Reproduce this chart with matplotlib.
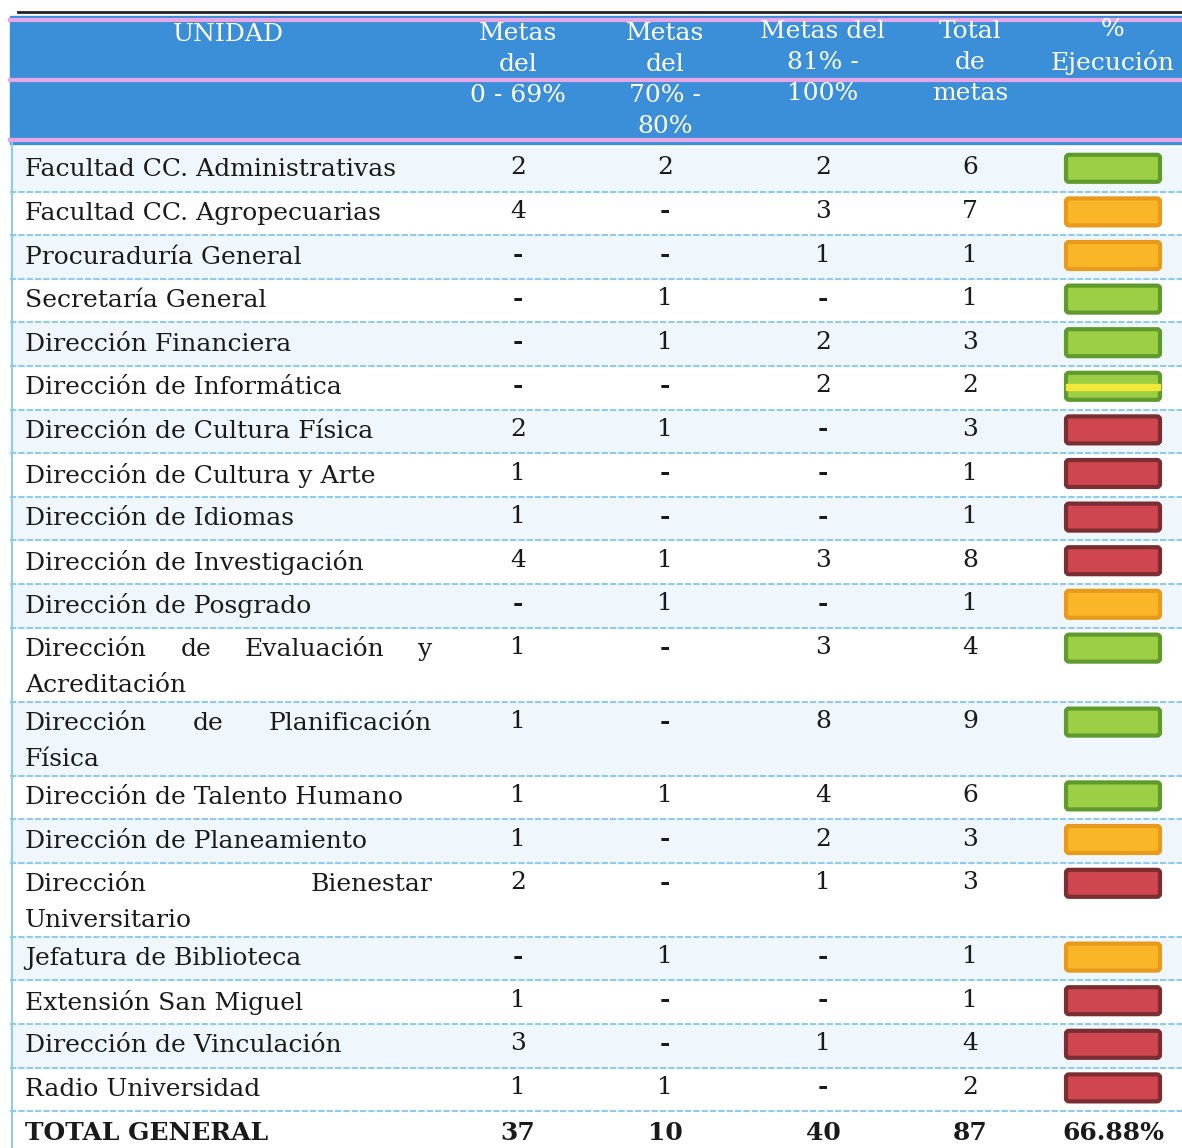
import numpy as np
import matplotlib.pyplot as plt
from matplotlib.patches import Rectangle, FancyBboxPatch

# Table data
unidades = ["Facultad CC. Administrativas", "Facultad CC. Agropecuarias", "Procuraduría General",
            "Secretaría General", "Dirección Financiera", "Dirección de Informática",
            "Dirección de Cultura Física", "Dirección de Cultura y Arte", "Dirección de Idiomas",
            "Dirección de Investigación", "Dirección de Posgrado",
            "Dirección de Evaluación y\nAcreditación", "Dirección de Planificación\nFísica",
            "Dirección de Talento Humano", "Dirección de Planeamiento",
            "Dirección Bienestar\nUniversitario", "Jefatura de Biblioteca",
            "Extensión San Miguel", "Dirección de Vinculación", "Radio Universidad"]
metas_0_69 = ["2", "4", "-", "-", "-", "-", "2", "1", "1", "4", "-", "1", "1", "1", "1", "2", "-", "1", "3", "1"]
metas_70_80 = ["2", "-", "-", "1", "1", "-", "1", "-", "-", "1", "1", "-", "-", "1", "-", "-", "1", "-", "-", "1"]
metas_81_100 = ["2", "3", "1", "-", "2", "2", "-", "-", "-", "3", "-", "3", "8", "4", "2", "1", "-", "-", "1", "-"]
total_metas = ["6", "7", "1", "1", "3", "2", "3", "1", "1", "8", "1", "4", "9", "6", "3", "3", "1", "1", "4", "2"]
estado = ["verde", "naranja", "naranja", "verde", "verde", "verde_amarillo", "rojo", "rojo", "rojo", "rojo",
          "naranja", "verde", "verde", "verde", "naranja", "rojo", "naranja", "rojo", "rojo", "rojo"]
totales = ["TOTAL GENERAL", "37", "10", "40", "87", "66.88%"]
encabezados = ["UNIDAD", "Metas\ndel\n0 - 69%", "Metas\ndel\n70% -\n80%", "Metas del\n81% -\n100%",
               "Total\nde\nmetas", "%\nEjecución"]

colores = {"verde": ("#9ccf45", "#5f9a2c"), "naranja": ("#f9b728", "#e89a1c"),
           "rojo": ("#cf4650", "#7a2e32"), "verde_amarillo": ("#9ccf45", "#5f9a2c")}

W, H = 1182, 1148
fig = plt.figure(figsize=(W / 100, H / 100), dpi=100)
ax = fig.add_axes([0, 0, 1, 1])
ax.set_xlim(0, W)
ax.set_ylim(H, 0)
ax.axis("off")
renderer = fig.canvas.get_renderer()

fuente = "DejaVu Serif"
fs = 18
col_x = [25, 518, 665, 823, 970, 1113]
x_izq, x_der = 10, 1182
x_just = 432  # right edge of justified text

# header
ax.plot([18, x_der], [12, 12], color="#222222", lw=2)
ax.add_patch(Rectangle((x_izq, 16), x_der - x_izq, 128, color="#3b8fd9", zorder=1))
for yl in [20, 80, 140]:
    ax.plot([x_izq, x_der], [yl, yl], color="#e7a6e6", lw=3, zorder=2)
header_y = [33, 32, 32, 30, 30, 28]
for i, txt in enumerate(encabezados):
    xc = 228 if i == 0 else col_x[i]
    ax.text(xc, header_y[i] - 10, txt, ha="center", va="top", color="white", fontsize=fs,
            family=fuente, linespacing=1.45, zorder=3)

# body rows
lineas = [2 if "\n" in u else 1 for u in unidades]
s, d = 43.6, 74
y = 148
for i, u in enumerate(unidades):
    h = s if lineas[i] == 1 else d
    if i % 2 == 0:
        ax.add_patch(Rectangle((x_izq, y), x_der - x_izq, h, color="#eff7fc", zorder=0))
    yc = y + h / 2 if lineas[i] == 1 else y + 22
    if lineas[i] == 1:
        ax.text(col_x[0], yc, u, ha="left", va="center", fontsize=fs, family=fuente, color="#1a1a1a")
    else:
        # justified first line: measure words, spread the gaps evenly
        l1, l2 = u.split("\n")
        palabras = l1.split(" ")
        arts = [ax.text(0, yc, p, ha="left", va="center", fontsize=fs, family=fuente, color="#1a1a1a")
                for p in palabras]
        anchos = [a.get_window_extent(renderer).width for a in arts]
        hueco = (x_just - col_x[0] - sum(anchos)) / (len(palabras) - 1)
        x = col_x[0]
        for a, w in zip(arts, anchos):
            a.set_x(x)
            x += w + hueco
        ax.text(col_x[0], yc + 36, l2, ha="left", va="center", fontsize=fs, family=fuente, color="#1a1a1a")
    for k, col in enumerate([metas_0_69, metas_70_80, metas_81_100, total_metas]):
        v = col[i]
        ax.text(col_x[k + 1], yc - 2, v, ha="center", va="center", fontsize=fs, family=fuente,
                color="#1a1a1a", fontweight="bold" if v == "-" else "normal")
    fc, ec = colores[estado[i]]
    ax.add_patch(FancyBboxPatch((col_x[5] - 47, yc - 15), 94, 27, boxstyle="round,pad=0,rounding_size=3",
                                facecolor=fc, edgecolor=ec, lw=3, zorder=2))
    if estado[i] == "verde_amarillo":
        ax.add_patch(Rectangle((col_x[5] - 47, yc - 4), 94, 6, color="#f2e83a", zorder=3))
    y += h
    ax.plot([x_izq, x_der], [y, y], color="#8fcbef", lw=1.5, ls=(0, (3, 1)), zorder=1)

# total row
yc = y + 22
for k, t in enumerate(totales):
    ax.text(col_x[k], yc, t, ha="left" if k == 0 else "center", va="center", fontsize=fs,
            family=fuente, fontweight="bold", color="#1a1a1a")

ax.plot([x_izq + 2, x_izq + 2], [143, H], color="#8fcbef", lw=1.5)

fig.savefig("out.png", dpi=100)
